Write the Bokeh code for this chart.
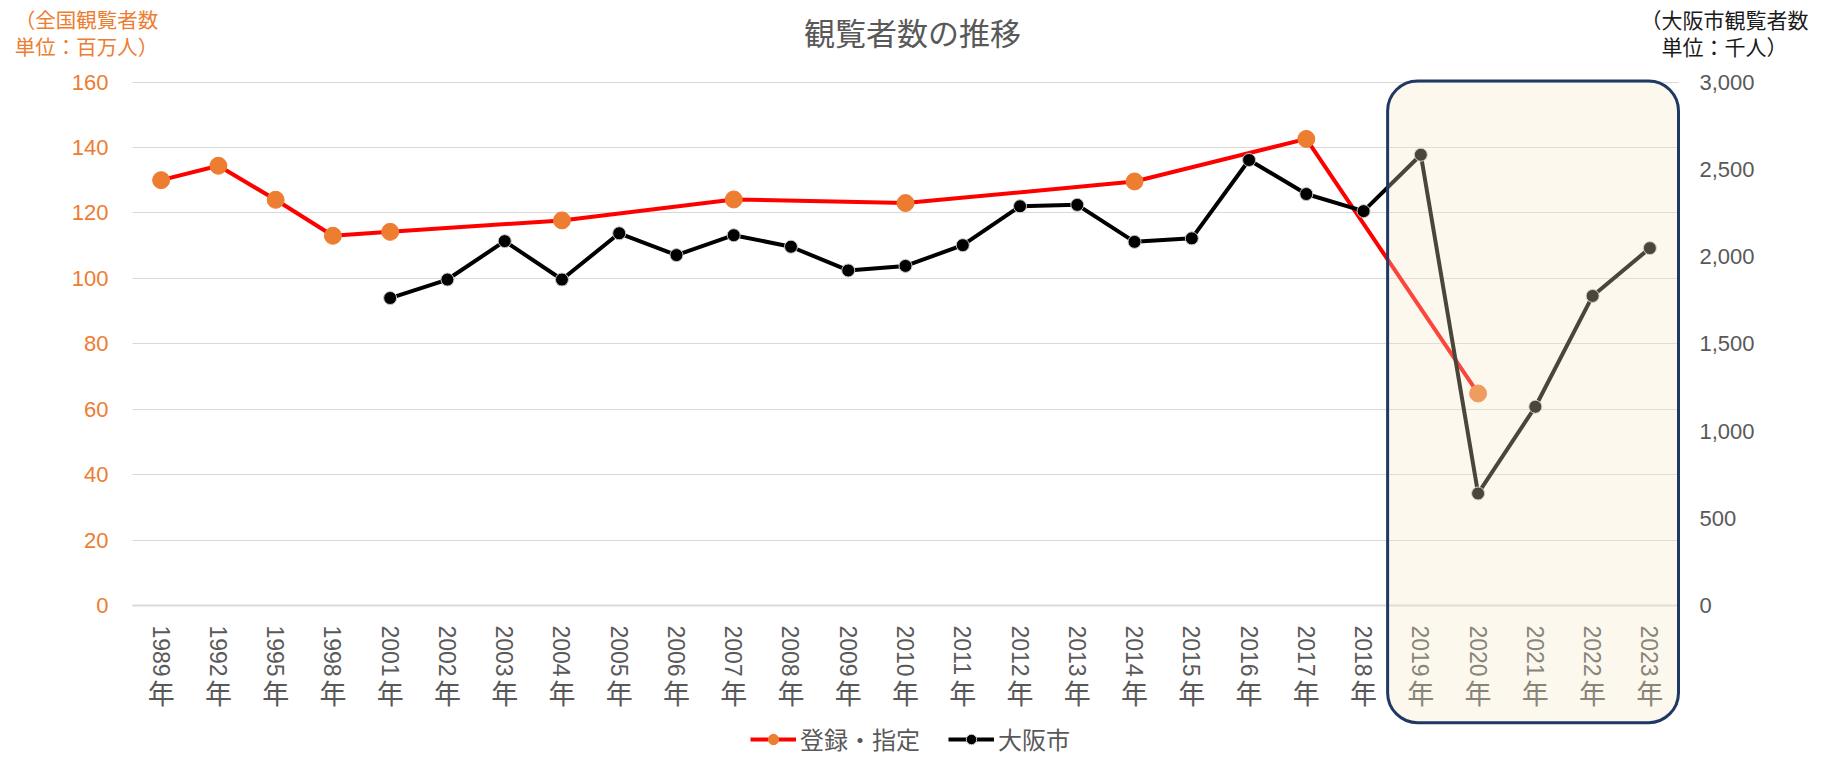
import math
from bokeh.plotting import figure
from bokeh.models import (FactorRange, Range1d, LinearAxis, CategoricalAxis, FixedTicker,
                          NumeralTickFormatter, CustomJSTickFormatter, BoxAnnotation, Label,
                          Legend, LegendItem)
from bokeh.embed import file_html
from bokeh.resources import INLINE

# ---------------- data ----------------
years = ["1989", "1992", "1995", "1998"] + [str(y) for y in range(2001, 2024)]
year_suffix = "年"

national_years = ["1989", "1992", "1995", "1998", "2001", "2004", "2007", "2010", "2014", "2017", "2020"]
national_values = [130.0, 134.4, 124.0, 113.0, 114.2, 117.7, 124.1, 123.0, 129.6, 142.6, 64.8]

osaka_years = [str(y) for y in range(2001, 2024)]
osaka_values = [1762, 1868, 2088, 1868, 2133, 2008, 2122, 2056, 1920, 1946, 2065, 2288,
                2296, 2084, 2104, 2553, 2358, 2260, 2583, 642, 1139, 1774, 2048]

left_max, right_max = 160, 3000
left_ticks = [0, 20, 40, 60, 80, 100, 120, 140, 160]
right_ticks = [0, 500, 1000, 1500, 2000, 2500, 3000]

title_text = "観覧者数の推移"
left_title = "（全国観覧者数\n単位：百万人）"
right_title = "（大阪市観覧者数\n単位：千人）"
national_label = "登録・指定"
osaka_label = "大阪市"
highlight_from = "2019"

# ---------------- layout constants (pixels) ----------------
W, H = 1832, 757
PLOT_L, PLOT_R = 132, 1678          # category span
ZERO_Y, TOP_Y = 605, 81.5           # y pixel of value 0 and of the top value
MR = 22                             # right blank border
GRAY = "#595959"
ORANGE = "#ed7d31"
CJK = "Noto Sans CJK JP"
NUM = "Liberation Sans"

n = len(years)
cat_w = (PLOT_R - PLOT_L) / n
pad = PLOT_L / cat_w                          # symmetric padding in category units
k = (ZERO_Y - TOP_Y) / left_max               # px per left-axis unit
y0 = -(H - ZERO_Y) / k
y1 = left_max + TOP_Y / k
scale_r = right_max / left_max

p = figure(width=W, height=H,
           x_range=FactorRange(factors=years, range_padding=pad, range_padding_units="absolute"),
           y_range=Range1d(y0, y1),
           output_backend="svg", toolbar_location=None,
           min_border_left=0, min_border_right=MR, min_border_top=0, min_border_bottom=0,
           outline_line_color=None, background_fill_color="white", border_fill_color="white")
p.title.visible = False
p.extra_y_ranges = {"osaka": Range1d(y0 * scale_r, y1 * scale_r)}

# grids
p.xgrid.visible = False
p.ygrid.grid_line_color = "#d9d9d9"
p.ygrid.grid_line_width = 1
p.ygrid.cross_bounds = (0, n)

# left axis (inside the frame, at the left edge of the categories)
ya = p.yaxis[0]
ya.fixed_location = 0
ya.ticker = FixedTicker(ticks=left_ticks)
ya.axis_line_color = None
ya.major_tick_line_color = None
ya.major_tick_out = 0
ya.minor_tick_line_color = None
ya.major_label_text_color = ORANGE
ya.major_label_text_font = NUM
ya.major_label_text_font_size = "22px"
ya.major_label_standoff = 24

# right axis
ra = LinearAxis(y_range_name="osaka", ticker=FixedTicker(ticks=right_ticks),
                formatter=NumeralTickFormatter(format="0,0"), fixed_location=n)
ra.axis_line_color = None
ra.major_tick_line_color = None
ra.major_tick_out = 0
ra.minor_tick_line_color = None
ra.major_label_text_color = GRAY
ra.major_label_text_font = NUM
ra.major_label_text_font_size = "22px"
ra.major_label_standoff = 21
p.add_layout(ra, "right")

# bottom axis: year digits rotated
xa = p.xaxis[0]
xa.fixed_location = 0
xa.bounds = (0, n)
xa.axis_line_color = "#d9d9d9"
xa.axis_line_width = 2
xa.major_tick_line_color = None
xa.major_tick_out = 0
xa.minor_tick_line_color = None
xa.major_label_orientation = -math.pi / 2
xa.major_label_text_color = GRAY
xa.major_label_text_font = NUM
xa.major_label_text_font_size = "23px"
xa.major_label_standoff = 20

# second bottom axis: upright 年
xa2 = CategoricalAxis(formatter=CustomJSTickFormatter(args=dict(s=year_suffix), code="return s"),
                      fixed_location=0)
xa2.axis_line_color = None
xa2.major_tick_line_color = None
xa2.major_tick_out = 0
xa2.minor_tick_line_color = None
xa2.major_label_orientation = "horizontal"
xa2.major_label_text_color = GRAY
xa2.major_label_text_font = CJK
xa2.major_label_text_font_size = "27px"
xa2.major_label_standoff = 67
p.add_layout(xa2, "below")

# series
r_line = p.line(x=national_years, y=national_values, line_color="#ff0000", line_width=4)
r_pts = p.scatter(x=national_years, y=national_values, size=17, fill_color=ORANGE, line_color=ORANGE)
o_line = p.line(x=osaka_years, y=osaka_values, y_range_name="osaka", line_color="black", line_width=4)
o_pts = p.scatter(x=osaka_years, y=osaka_values, y_range_name="osaka", size=13,
                  fill_color="black", line_color="#c8c8c8", line_width=1)

# highlight box
box = BoxAnnotation(left=years.index(highlight_from) - 0.08, right=n,
                    top=left_max + 0.3, bottom=-35.8,
                    fill_color="#f5e9c8", fill_alpha=0.3,
                    line_color="#1f3864", line_alpha=1.0, line_width=3, border_radius=30)
p.add_layout(box)

# legend
legend = Legend(items=[LegendItem(label=national_label, renderers=[r_line, r_pts]),
                       LegendItem(label=osaka_label, renderers=[o_line, o_pts])],
                orientation="horizontal", location=(750, 1),
                border_line_color=None, background_fill_alpha=0, padding=0, margin=0,
                spacing=28, glyph_width=46, glyph_height=26, label_height=26, label_standoff=4,
                label_text_font=CJK, label_text_font_size="24px", label_text_color=GRAY)
p.add_layout(legend)

# titles
p.add_layout(Label(x=912, y=H - 31, x_units="screen", y_units="screen", text=title_text,
                   text_align="center", text_baseline="middle", text_font=CJK,
                   text_font_size="31px", text_color=GRAY))
p.add_layout(Label(x=86, y=H - 32, x_units="screen", y_units="screen", text=left_title,
                   text_align="center", text_baseline="middle", text_font=CJK,
                   text_font_size="20.5px", text_color=ORANGE, text_line_height=0.9))
p.add_layout(Label(x=1724, y=H - 32, x_units="screen", y_units="screen", text=right_title,
                   text_align="center", text_baseline="middle", text_font=CJK,
                   text_font_size="21px", text_color="#1a1a1a", text_line_height=0.9))

open("out.html", "w").write(file_html(p, INLINE))
